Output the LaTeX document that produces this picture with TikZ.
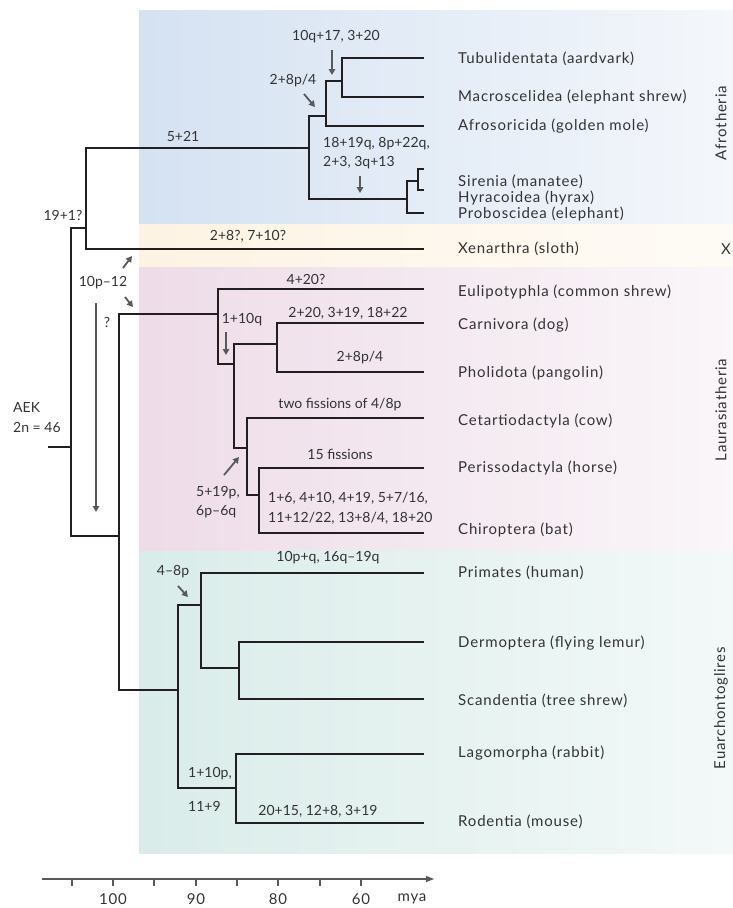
\documentclass[tikz,border=0pt]{standalone}
\usepackage{fontspec}
\setmainfont{Lato}
\newfontfamily\taxfont{Lato}[LetterSpace=5.5]
\usetikzlibrary{arrows.meta}
\definecolor{treec}{HTML}{231F20}
\definecolor{annc}{HTML}{58595B}
\definecolor{txtc}{HTML}{333333}
\definecolor{blueL}{HTML}{D5E2F2}
\definecolor{blueR}{HTML}{F4F7FB}
\definecolor{yelL}{HTML}{FDF3E3}
\definecolor{yelR}{HTML}{FEFBF6}
\definecolor{pinkL}{HTML}{EEDCE8}
\definecolor{pinkR}{HTML}{FAF6F9}
\definecolor{greenL}{HTML}{D9ECE9}
\definecolor{greenR}{HTML}{F3F9F8}
\begin{document}
\begin{tikzpicture}[x=1pt,y=-1pt,
  tree/.style={line width=1.4pt, draw=treec},
  ann/.style={line width=1.8pt, draw=annc, -{Triangle[length=6pt,width=6.5pt]}},
  taxon/.style={anchor=west, inner sep=0pt, font=\taxfont\fontsize{15}{17}\selectfont, text=txtc},
  lab/.style={inner sep=0pt, font=\fontsize{14}{16}\selectfont, text=txtc},
  labw/.style={lab, anchor=west},
  grp/.style={rotate=90, inner sep=0pt, font=\taxfont\fontsize{15}{17}\selectfont, text=txtc},
  axl/.style={inner sep=0pt, font=\taxfont\fontsize{15}{17}\selectfont, text=txtc},
]
\useasboundingbox (0,0) rectangle (733,908);
% panels
\shade[left color=blueL, right color=blueR] (139,10) rectangle (733,224);
\shade[left color=yelL, right color=yelR] (139,224) rectangle (733,267);
\shade[left color=pinkL, right color=pinkR] (139,267) rectangle (733,551);
\shade[left color=greenL, right color=greenR] (139,551) rectangle (733,853);

% tree coordinates
\coordinate (root) at (48,447);
\coordinate (n0) at (71,447);
\coordinate (n1) at (86,228);
\coordinate (boreo) at (119,536);
\coordinate (afro) at (309,148);
\coordinate (a1) at (326,116);
\coordinate (a2) at (342,81);
\coordinate (a3) at (407,199);
\coordinate (a4) at (418,181);
\coordinate (laur) at (218,314);
\coordinate (l1) at (234,364);
\coordinate (l2) at (277,344);
\coordinate (l3) at (247,448);
\coordinate (l4) at (259,495);
\coordinate (euar) at (178,690);
\coordinate (e1) at (201,605);
\coordinate (e2) at (239,668);
\coordinate (e3) at (236,788);
% tips
\coordinate (tTub) at (424,58);
\coordinate (tMac) at (424,97);
\coordinate (tAfr) at (424,126);
\coordinate (tSir) at (424,169);
\coordinate (tHyr) at (424,190);
\coordinate (tPro) at (424,213);
\coordinate (tXen) at (424,249);
\coordinate (tEul) at (424,289);
\coordinate (tCar) at (424,323);
\coordinate (tPho) at (424,372);
\coordinate (tCet) at (424,418);
\coordinate (tPer) at (424,468);
\coordinate (tChi) at (424,533);
\coordinate (tPri) at (424,573);
\coordinate (tDer) at (424,642);
\coordinate (tSca) at (424,699);
\coordinate (tLag) at (424,754);
\coordinate (tRod) at (424,823);

% tree edges
\draw[tree] (root) -- (n0);
\draw[tree] (n0) |- (n1);
\draw[tree] (n0) |- (boreo);
\draw[tree] (n1) |- (afro);
\draw[tree] (n1) |- (tXen);
\draw[tree] (afro) |- (a1);
\draw[tree] (afro) |- (a3);
\draw[tree] (a1) |- (a2);
\draw[tree] (a1) |- (tAfr);
\draw[tree] (a2) |- (tTub);
\draw[tree] (a2) |- (tMac);
\draw[tree] (a3) |- (a4);
\draw[tree] (a3) |- (tPro);
\draw[tree] (a4) |- (tSir);
\draw[tree] (a4) |- (tHyr);
\draw[tree] (boreo) |- (laur);
\draw[tree] (boreo) |- (euar);
\draw[tree] (laur) |- (tEul);
\draw[tree] (laur) |- (l1);
\draw[tree] (l1) |- (l2);
\draw[tree] (l2) |- (tCar);
\draw[tree] (l2) |- (tPho);
\draw[tree] (l1) |- (l3);
\draw[tree] (l3) |- (tCet);
\draw[tree] (l3) |- (l4);
\draw[tree] (l4) |- (tPer);
\draw[tree] (l4) |- (tChi);
\draw[tree] (euar) |- (e1);
\draw[tree] (euar) |- (e3);
\draw[tree] (e1) |- (tPri);
\draw[tree] (e1) |- (e2);
\draw[tree] (e2) |- (tDer);
\draw[tree] (e2) |- (tSca);
\draw[tree] (e3) |- (tLag);
\draw[tree] (e3) |- (tRod);

% taxa
\node[taxon] (xTub) at (458,59) {Tubulidentata (aardvark)};
\node[taxon] (xMac) at (458,97) {Macroscelidea (elephant shrew)};
\node[taxon] (xAfr) at (458,126) {Afrosoricida (golden mole)};
\node[taxon] (xSir) at (458,182) {Sirenia (manatee)};
\node[taxon] (xHyr) at (458,198) {Hyracoidea (hyrax)};
\node[taxon] (xPro) at (458,214) {Proboscidea (elephant)};
\node[taxon] (xXen) at (458,249) {Xenarthra (sloth)};
\node[taxon] (xEul) at (458,292) {Eulipotyphla (common shrew)};
\node[taxon] (xCar) at (458,325) {Carnivora (dog)};
\node[taxon] (xPho) at (458,373) {Pholidota (pangolin)};
\node[taxon] (xCet) at (458,421) {Cetartiodactyla (cow)};
\node[taxon] (xPer) at (458,468) {Perissodactyla (horse)};
\node[taxon] (xChi) at (458,530) {Chiroptera (bat)};
\node[taxon] (xPri) at (458,573) {Primates (human)};
\node[taxon] (xDer) at (458,643) {Dermoptera (flying lemur)};
\node[taxon] (xSca) at (458,701) {Scandentia (tree shrew)};
\node[taxon] (xLag) at (458,753) {Lagomorpha (rabbit)};
\node[taxon] (xRod) at (458,822) {Rodentia (mouse)};

% groups
\node[grp] (gAfro) at (721,123) {Afrotheria};
\node[inner sep=0pt, font=\taxfont\fontsize{15}{17}\selectfont, text=txtc] (gX) at (726,249) {X};
\node[grp] (gLaur) at (721,410) {Laurasiatheria};
\node[grp] (gEuar) at (721,708) {Euarchontoglires};

% annotation labels
\node[lab] (L521) at (183,136) {5+21};
\node[lab] (L191) at (63,215) {19+1?};
\node[lab] (L28) at (248,236) {2+8?, 7+10?};
\node[lab] (L10q) at (336,37) {10q+17, 3+20};
\node[lab] (L28p) at (293,81) {2+8p/4};
\node[labw] (L1819a) at (323,144) {18+19q, 8p+22q,};
\node[labw] (L1819b) at (323,163) {2+3, 3q+13};
\node[lab] (L10p12) at (103,283) {10p–12};
\node[lab] (Lq) at (107,322) {?};
\node[labw] (LAEK) at (13,407) {AEK};
\node[labw] (L2n) at (13,427) {2n = 46};
\node[lab] (L420) at (306,279) {4+20?};
\node[lab] (L220) at (348,313) {2+20, 3+19, 18+22};
\node[lab] (L110q) at (242,320) {1+10q};
\node[lab] (L28pb) at (360,358) {2+8p/4};
\node[lab] (Ltwo) at (340,405) {two fissions of 4/8p};
\node[lab] (L15) at (340,454) {15 fissions};
\node[labw] (L16a) at (268,498) {1+6, 4+10, 4+19, 5+7/16,};
\node[labw] (L16b) at (268,518) {11+12/22, 13+8/4, 18+20};
\node[labw] (L519a) at (196,493) {5+19p,};
\node[labw] (L519b) at (196,512) {6p–6q};
\node[lab] (L10pq) at (328,558) {10p+q, 16q–19q};
\node[lab] (L48) at (173,572) {4–8p};
\node[labw] (L110pa) at (188,774) {1+10p,};
\node[labw] (L110pb) at (188,806) {11+9};
\node[lab] (L2015) at (318,811) {20+15, 12+8, 3+19};

% annotation arrows
\coordinate (r1s) at (332,50);  \coordinate (r1e) at (332,75);
\coordinate (r2s) at (304,94);  \coordinate (r2e) at (315,107);
\coordinate (r3s) at (360,176); \coordinate (r3e) at (360,193);
\coordinate (r4s) at (123,268); \coordinate (r4e) at (132,256);
\coordinate (r5s) at (125,297); \coordinate (r5e) at (133,307);
\coordinate (r6s) at (96,303);  \coordinate (r6e) at (96,512);
\coordinate (r7s) at (226,332); \coordinate (r7e) at (226,355);
\coordinate (r8s) at (224,475); \coordinate (r8e) at (239,457);
\coordinate (r9s) at (178,586); \coordinate (r9e) at (188,597);
\foreach \i in {1,...,9} {\draw[ann] (r\i s) -- (r\i e);}

% axis
\coordinate (ax0) at (42,879);
\coordinate (ax1) at (434,879);
\draw[line width=1.1pt, draw=annc, -{Triangle[length=8pt,width=6pt]}] (ax0) -- (ax1);
\foreach \x in {72,113,154,196,237,278,320,361} {\draw[line width=1.1pt, draw=annc] (\x,879) -- (\x,886);}
\node[axl] (a100) at (113,899) {100};
\node[axl] (a90) at (196,899) {90};
\node[axl] (a80) at (278,899) {80};
\node[axl] (a60) at (361,899) {60};
\node[axl] (amya) at (412,899) {mya};
\end{tikzpicture}
\end{document}
